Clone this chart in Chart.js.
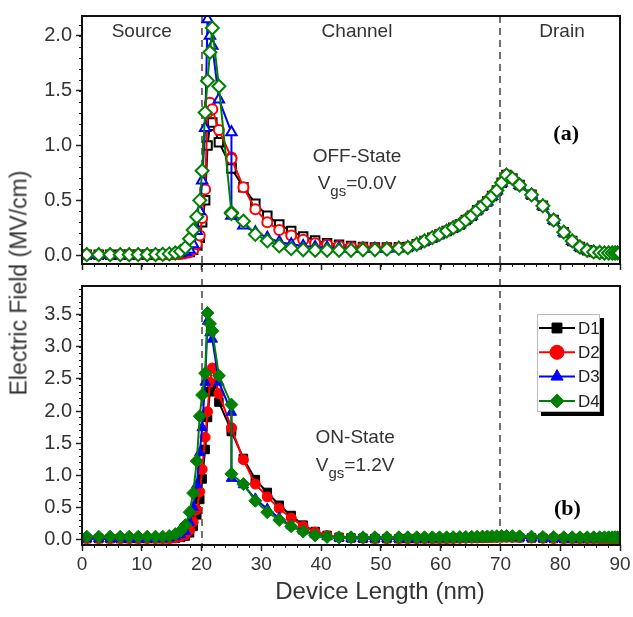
<!DOCTYPE html>
<html lang="en">
<head>
<meta charset="UTF-8">
<title>Electric field along the device</title>
<script src="https://cdn.jsdelivr.net/npm/chart.js"></script>
<style>
    body {
        margin: 0;
        background: #fff;
        font-family: 'Liberation Sans', Arial, sans-serif;
    }

    #wrap {
        position: relative;
        width: 633px;
        height: 617px;
    }

    #offChart { position: absolute; left: 0; top: 0; }
    #onChart { position: absolute; left: 0; top: 270px; }

    .axis-title {
        position: absolute;
        white-space: nowrap;
        color: #333;
        transform: translate(-50%, -50%);
    }

    #yTitle { left: 19px; top: 283px; font-size: 23px; transform: translate(-50%, -50%) rotate(-90deg); }
    #xTitle { left: 380px; top: 591px; font-size: 24px; }
</style>
</head>
<body>
<div id="wrap">
    <canvas id="offChart" width="633" height="280"></canvas>
    <canvas id="onChart" width="633" height="347"></canvas>
    <div class="axis-title" id="yTitle">Electric Field (MV/cm)</div>
    <div class="axis-title" id="xTitle">Device Length (nm)</div>
</div>

<script>
// mesh positions along the device (nm)
const lengthNm = [
    0.8, 2.8, 4.7, 6.4, 7.9, 9.4, 10.9, 12.3, 13.5, 14.6, 15.6, 16.5,
    17.3, 18.0, 18.6, 19.2, 19.7, 20.1, 20.6, 21.0, 21.4, 21.8, 22.9, 25.0, 25.0, 27, 29,
    31, 33, 35, 37, 39, 41, 43, 45, 47, 49, 51, 53,
    54.5, 56, 57.3, 58.6, 59.8, 61, 62.1, 63.2, 64.2, 65.2, 66.1, 67, 67.8, 68.6, 69.4, 70.2,
    71, 72, 73.2, 75.2, 77.1, 78.9, 80.6, 82, 83.3, 84.5, 85.6, 86.6, 87.4, 88.1, 88.7, 89.2, 89.6, 90
];

// OFF-state field, Vgs = 0.0 V (MV/cm)
const offD1 = [
    0.005, 0.005, 0.005, 0.005, 0.005, 0.005, 0.005, 0.005, 0.005, 0.006, 0.008, 0.012,
    0.02, 0.03, 0.05, 0.09, 0.16, 0.30, 0.50, 1.00, 1.18, 1.21, 1.03, 0.80, 0.79, 0.62, 0.47,
    0.36, 0.28, 0.22, 0.17, 0.135, 0.11, 0.095, 0.085, 0.075, 0.07, 0.07, 0.072,
    0.075, 0.10, 0.13, 0.16, 0.19, 0.22, 0.25, 0.28, 0.32, 0.36, 0.41, 0.45, 0.49, 0.54, 0.59, 0.66,
    0.73, 0.70, 0.64, 0.55, 0.45, 0.32, 0.21, 0.13, 0.075, 0.045, 0.03, 0.025, 0.02, 0.02, 0.02, 0.02, 0.02, 0.02
];
const offD2 = [
    0.005, 0.005, 0.005, 0.005, 0.005, 0.005, 0.005, 0.005, 0.005, 0.006, 0.008, 0.012,
    0.02, 0.03, 0.05, 0.10, 0.18, 0.34, 0.60, 1.30, 1.39, 1.33, 1.14, 0.89, 0.88, 0.62, 0.42,
    0.30, 0.23, 0.18, 0.14, 0.11, 0.095, 0.085, 0.075, 0.07, 0.065, 0.065, 0.07,
    0.075, 0.10, 0.13, 0.16, 0.19, 0.22, 0.25, 0.28, 0.32, 0.36, 0.41, 0.45, 0.49, 0.54, 0.59, 0.66,
    0.73, 0.70, 0.64, 0.55, 0.45, 0.32, 0.21, 0.13, 0.075, 0.045, 0.03, 0.025, 0.02, 0.02, 0.02, 0.02, 0.02, 0.02
];
const offD3 = [
    0.005, 0.005, 0.005, 0.005, 0.005, 0.005, 0.005, 0.005, 0.006, 0.007, 0.01, 0.018,
    0.03, 0.05, 0.10, 0.22, 0.40, 0.68, 1.16, 2.15, 2.00, 1.91, 1.42, 1.12, 0.36, 0.27, 0.21,
    0.16, 0.12, 0.10, 0.085, 0.075, 0.07, 0.065, 0.06, 0.06, 0.06, 0.06, 0.065,
    0.072, 0.10, 0.13, 0.16, 0.19, 0.22, 0.25, 0.28, 0.32, 0.36, 0.41, 0.45, 0.49, 0.54, 0.59, 0.66,
    0.73, 0.70, 0.64, 0.55, 0.45, 0.32, 0.21, 0.13, 0.075, 0.045, 0.03, 0.025, 0.02, 0.02, 0.02, 0.02, 0.02, 0.02
];
const offD4 = [
    0.005, 0.005, 0.005, 0.005, 0.005, 0.005, 0.005, 0.006, 0.008, 0.012, 0.02, 0.035,
    0.07, 0.15, 0.23, 0.35, 0.50, 0.77, 1.30, 1.59, 1.85, 2.07, 1.54, 0.39, 0.38, 0.31, 0.19,
    0.13, 0.085, 0.06, 0.05, 0.045, 0.045, 0.045, 0.045, 0.05, 0.05, 0.055, 0.062,
    0.07, 0.10, 0.13, 0.16, 0.19, 0.22, 0.25, 0.28, 0.32, 0.36, 0.41, 0.45, 0.49, 0.54, 0.59, 0.66,
    0.73, 0.70, 0.64, 0.55, 0.45, 0.32, 0.21, 0.13, 0.075, 0.045, 0.03, 0.025, 0.02, 0.02, 0.02, 0.02, 0.02, 0.02
];

// ON-state field, Vgs = 1.2 V (MV/cm)
const onD1 = [
    0.01, 0.01, 0.01, 0.01, 0.01, 0.01, 0.01, 0.01, 0.01, 0.01, 0.015, 0.03,
    0.05, 0.10, 0.20, 0.38, 0.62, 0.94, 1.40, 1.90, 2.30, 2.42, 2.14, 1.69, 1.68, 1.26, 0.93,
    0.73, 0.53, 0.37, 0.22, 0.12, 0.06, 0.03, 0.02, 0.015, 0.01, 0.01, 0.01,
    0.01, 0.01, 0.01, 0.01, 0.01, 0.01, 0.012, 0.014, 0.016, 0.018, 0.02, 0.022, 0.024, 0.026, 0.028, 0.03,
    0.03, 0.028, 0.025, 0.02, 0.016, 0.012, 0.01, 0.01, 0.01, 0.01, 0.01, 0.01, 0.01, 0.01, 0.01, 0.01, 0.01, 0.01
];
const onD2 = [
    0.01, 0.01, 0.01, 0.01, 0.01, 0.01, 0.01, 0.01, 0.01, 0.01, 0.02, 0.04,
    0.07, 0.14, 0.27, 0.46, 0.74, 1.09, 1.59, 1.99, 2.45, 2.67, 2.27, 1.74, 1.73, 1.24, 0.86,
    0.66, 0.48, 0.33, 0.20, 0.11, 0.055, 0.03, 0.02, 0.015, 0.01, 0.01, 0.01,
    0.01, 0.01, 0.01, 0.01, 0.01, 0.01, 0.012, 0.014, 0.016, 0.018, 0.02, 0.022, 0.024, 0.026, 0.028, 0.03,
    0.03, 0.028, 0.025, 0.02, 0.016, 0.012, 0.01, 0.01, 0.01, 0.01, 0.01, 0.01, 0.01, 0.01, 0.01, 0.01, 0.01, 0.01
];
const onD3 = [
    0.01, 0.01, 0.01, 0.01, 0.01, 0.01, 0.01, 0.01, 0.01, 0.02, 0.04, 0.07,
    0.12, 0.26, 0.50, 0.85, 1.35, 1.74, 2.45, 3.40, 3.22, 3.12, 2.45, 1.98, 0.95, 0.85, 0.63,
    0.47, 0.33, 0.21, 0.13, 0.07, 0.04, 0.02, 0.015, 0.01, 0.01, 0.01, 0.01,
    0.01, 0.01, 0.01, 0.01, 0.01, 0.01, 0.012, 0.014, 0.016, 0.018, 0.02, 0.022, 0.024, 0.026, 0.028, 0.03,
    0.03, 0.028, 0.025, 0.02, 0.016, 0.012, 0.01, 0.01, 0.01, 0.01, 0.01, 0.01, 0.01, 0.01, 0.01, 0.01, 0.01, 0.01
];
const onD4 = [
    0.04, 0.04, 0.04, 0.04, 0.04, 0.04, 0.04, 0.04, 0.04, 0.05, 0.08, 0.13,
    0.22, 0.42, 0.72, 1.22, 1.92, 2.25, 2.59, 3.53, 3.36, 3.25, 2.55, 2.10, 1.02, 0.86, 0.60,
    0.42, 0.30, 0.20, 0.12, 0.06, 0.035, 0.03, 0.03, 0.03, 0.03, 0.03, 0.03,
    0.03, 0.03, 0.03, 0.03, 0.03, 0.03, 0.032, 0.034, 0.036, 0.038, 0.04, 0.042, 0.044, 0.046, 0.048, 0.05,
    0.05, 0.048, 0.045, 0.04, 0.036, 0.033, 0.03, 0.03, 0.03, 0.03, 0.03, 0.03, 0.03, 0.03, 0.03, 0.03, 0.03, 0.03
];

// axis ticks and region borders (nm)
const xTickValues = [0, 10, 20, 30, 40, 50, 60, 70, 80, 90];
const offTickValues = [0, 0.5, 1.0, 1.5, 2.0];
const onTickValues = [0, 0.5, 1.0, 1.5, 2.0, 2.5, 3.0, 3.5];
const regionEdges = [20, 70];

const seriesNames = ['D1', 'D2', 'D3', 'D4'];
const seriesColors = ['#000000', '#ff0000', '#0000ff', '#008000'];
const seriesMarkers = ['rect', 'circle', 'triangle', 'rectRot'];
const markerSizes = [6, 5, 6, 6.5];

const FONT = "'Liberation Sans', Arial, sans-serif";
const TEXT = '#333';

function makeDatasets(seriesValues, hollow) {
    return seriesNames.map((name, i) => ({
        label: name,
        data: lengthNm.map((x, j) => ({ x: x, y: seriesValues[i][j] })),
        borderColor: seriesColors[i],
        backgroundColor: seriesColors[i],
        pointBackgroundColor: hollow ? '#ffffff' : seriesColors[i],
        pointBorderColor: seriesColors[i],
        pointStyle: seriesMarkers[i],
        pointRadius: markerSizes[i],
        pointBorderWidth: hollow ? 2 : 1,
        borderWidth: 2,
        tension: 0,
        order: 4 - i   // D4 ends up on top
    }));
}

// short ticks between the labelled ones
const minorTicks = {
    id: 'minorTicks',
    afterDraw(chart, args, opts) {
        const ctx = chart.ctx, area = chart.chartArea;
        const xs = chart.scales.x, ys = chart.scales.y;
        ctx.save();
        ctx.strokeStyle = '#222';
        ctx.lineWidth = 1;
        ctx.beginPath();
        for (let i = 0; i * opts.xStep <= xs.max + 1e-9; i++) {
            const px = Math.round(xs.getPixelForValue(i * opts.xStep)) + 0.5;
            ctx.moveTo(px, area.bottom);
            ctx.lineTo(px, area.bottom + 3);
        }
        for (let i = 0; i * opts.yStep <= ys.max + 1e-9; i++) {
            const py = Math.round(ys.getPixelForValue(i * opts.yStep)) + 0.5;
            ctx.moveTo(area.left, py);
            ctx.lineTo(area.left - 3, py);
        }
        ctx.stroke();
        ctx.restore();
    }
};

// box round the plot area
const frame = {
    id: 'frame',
    afterDraw(chart) {
        const ctx = chart.ctx, a = chart.chartArea;
        ctx.save();
        ctx.strokeStyle = '#111';
        ctx.lineWidth = 2;
        ctx.strokeRect(a.left, a.top, a.right - a.left, a.bottom - a.top);
        ctx.restore();
    }
};

// dashed lines at the source/channel/drain borders
const regionLines = {
    id: 'regionLines',
    beforeDatasetsDraw(chart, args, opts) {
        const ctx = chart.ctx, a = chart.chartArea, xs = chart.scales.x;
        ctx.save();
        ctx.strokeStyle = '#444';
        ctx.lineWidth = 1.5;
        ctx.setLineDash([7, 5]);
        regionEdges.forEach(v => {
            const px = Math.round(xs.getPixelForValue(v));
            ctx.beginPath();
            ctx.moveTo(px, a.top - (opts.extendTop || 0));
            ctx.lineTo(px, a.bottom + (opts.extendBottom || 0));
            ctx.stroke();
        });
        ctx.restore();
    }
};

// text notes placed in data coordinates; "sub" items get a subscript
const panelNotes = {
    id: 'panelNotes',
    afterDatasetsDraw(chart, args, opts) {
        const ctx = chart.ctx, xs = chart.scales.x, ys = chart.scales.y;
        ctx.save();
        ctx.textBaseline = 'middle';
        opts.items.forEach(item => {
            const px = xs.getPixelForValue(item.x);
            const py = ys.getPixelForValue(item.y);
            ctx.fillStyle = item.color || TEXT;
            if (item.sub) {
                const [head, sub, tail] = item.sub;
                const big = '19px ' + FONT, small = '15px ' + FONT;
                ctx.font = big;
                const w1 = ctx.measureText(head).width, w3 = ctx.measureText(tail).width;
                ctx.font = small;
                const w2 = ctx.measureText(sub).width;
                let cx = px - (w1 + w2 + w3) / 2;
                ctx.textAlign = 'left';
                ctx.font = big;
                ctx.fillText(head, cx, py);
                cx += w1;
                ctx.font = small;
                ctx.fillText(sub, cx, py + 8);
                cx += w2;
                ctx.font = big;
                ctx.fillText(tail, cx, py);
            } else {
                ctx.font = item.font || ('19px ' + FONT);
                ctx.textAlign = 'center';
                ctx.fillText(item.text, px, py);
            }
        });
        ctx.restore();
    }
};

// boxed legend with a drop shadow, inside the lower panel
const boxLegend = {
    id: 'boxLegend',
    afterDraw(chart) {
        const ctx = chart.ctx, a = chart.chartArea;
        const left = a.right - 83, top = a.top + 28, w = 63, h = 98;
        ctx.save();
        ctx.fillStyle = '#000';
        ctx.fillRect(left + 4, top + 4, w, h);
        ctx.fillStyle = '#fff';
        ctx.fillRect(left, top, w, h);
        ctx.strokeStyle = '#bbb';
        ctx.lineWidth = 1;
        ctx.strokeRect(left + 0.5, top + 0.5, w - 1, h - 1);
        ctx.textBaseline = 'middle';
        ctx.textAlign = 'left';
        ctx.font = '17px ' + FONT;
        chart.data.datasets.forEach((ds, i) => {
            const cy = top + 14 + i * 24.3;
            ctx.strokeStyle = ds.borderColor;
            ctx.lineWidth = 2;
            ctx.beginPath();
            ctx.moveTo(left + 2, cy);
            ctx.lineTo(left + 38, cy);
            ctx.stroke();
            ctx.fillStyle = ds.borderColor;
            ctx.lineWidth = 1;
            Chart.helpers.drawPoint(ctx, { pointStyle: ds.pointStyle, radius: 7, borderWidth: 1, rotation: 0 }, left + 20, cy);
            ctx.fillStyle = '#222';
            ctx.fillText(ds.label, left + 41, cy + 1);
        });
        ctx.restore();
    }
};

function scaleOptions(yMin, yMax, yTicks, showXLabels, xHeight) {
    return {
        x: {
            type: 'linear',
            min: 0,
            max: 90,
            afterBuildTicks: s => { s.ticks = xTickValues.map(v => ({ value: v })); },
            afterFit: s => { s.height = xHeight; },
            ticks: {
                display: showXLabels,
                autoSkip: false,
                maxRotation: 0,
                padding: 2,
                color: TEXT,
                font: { family: FONT, size: 19 }
            },
            grid: { drawOnChartArea: false, tickLength: 6, tickColor: '#222', tickWidth: 1.5 },
            border: { display: false }
        },
        y: {
            min: yMin,
            max: yMax,
            afterBuildTicks: s => { s.ticks = yTicks.map(v => ({ value: v })); },
            afterFit: s => { s.width = 82; },
            ticks: {
                padding: 4,
                color: TEXT,
                font: { family: FONT, size: 20 },
                callback: v => v.toFixed(1)
            },
            grid: { drawOnChartArea: false, tickLength: 6, tickColor: '#222', tickWidth: 1.5 },
            border: { display: false }
        }
    };
}

const offChart = new Chart(document.getElementById('offChart'), {
    type: 'line',
    data: { datasets: makeDatasets([offD1, offD2, offD3, offD4], true) },
    options: {
        responsive: false,
        animation: false,
        layout: { padding: { top: 14, right: 13, left: 0, bottom: 0 } },
        scales: scaleOptions(-0.08, 2.18, offTickValues, false, 8),
        plugins: {
            legend: { display: false },
            tooltip: { enabled: false },
            minorTicks: { xStep: 2, yStep: 0.1 },
            regionLines: { extendBottom: 8 },
            panelNotes: {
                items: [
                    { text: 'Source', x: 10, y: 2.04 },
                    { text: 'Channel', x: 46, y: 2.04 },
                    { text: 'Drain', x: 80.3, y: 2.04 },
                    { text: 'OFF-State', x: 46, y: 0.9 },
                    { sub: ['V', 'gs', '=0.0V'], x: 46, y: 0.65 },
                    { text: '(a)', x: 81, y: 1.1, font: 'bold 22px "Liberation Serif", serif', color: '#000' }
                ]
            }
        }
    },
    plugins: [minorTicks, frame, regionLines, panelNotes]
});

const onChart = new Chart(document.getElementById('onChart'), {
    type: 'line',
    data: { datasets: makeDatasets([onD1, onD2, onD3, onD4], false) },
    options: {
        responsive: false,
        animation: false,
        layout: { padding: { top: 7, right: 13, left: 0, bottom: 0 } },
        scales: scaleOptions(-0.09, 3.95, onTickValues, true, 72),
        plugins: {
            legend: { display: false },
            tooltip: { enabled: false },
            minorTicks: { xStep: 2, yStep: 0.1 },
            regionLines: { extendTop: 7 },
            panelNotes: {
                items: [
                    { text: 'ON-State', x: 45.7, y: 1.58 },
                    { sub: ['V', 'gs', '=1.2V'], x: 45.7, y: 1.15 },
                    { text: '(b)', x: 81.2, y: 0.47, font: 'bold 22px "Liberation Serif", serif', color: '#000' }
                ]
            }
        }
    },
    plugins: [minorTicks, frame, regionLines, panelNotes, boxLegend]
});
</script>
</body>
</html>
